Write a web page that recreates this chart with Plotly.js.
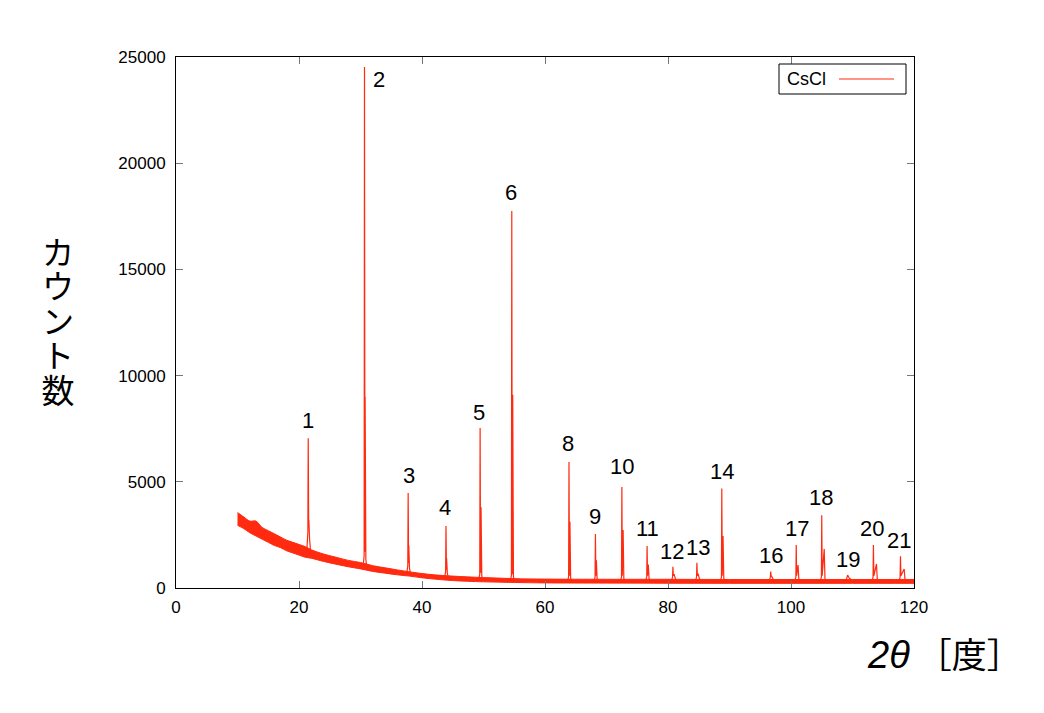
<!DOCTYPE html>
<html>
<head>
<meta charset="utf-8">
<script src="https://cdn.plot.ly/plotly-3.0.1.min.js"></script>
<style>html,body{margin:0;padding:0;background:#fff;}#chart{width:1044px;height:713px;}</style>
</head>
<body>
<div id="chart"></div>
<script>
// Background noise envelope (2θ in degrees, counts)
const bgX     = [10, 11, 12, 13, 14, 15, 16, 17, 18, 19, 20, 21, 22, 24, 26, 28, 30, 32, 34, 36, 38, 40, 42, 45, 50, 55, 60, 70, 80, 90, 100, 110, 120];
const bgUpper = [3550, 3350, 3150, 3150, 2850, 2700, 2550, 2400, 2250, 2150, 2050, 1950, 1800, 1600, 1450, 1300, 1200, 1050, 950, 850, 760, 680, 620, 560, 490, 440, 420, 410, 410, 400, 400, 400, 400];
const bgLower = [2950, 2800, 2600, 2450, 2300, 2150, 2000, 1900, 1750, 1650, 1550, 1450, 1400, 1250, 1120, 1000, 900, 780, 700, 620, 560, 480, 420, 350, 290, 260, 240, 230, 225, 220, 220, 220, 220];

// Diffraction peaks: Kα1 position/height, Kα2 shoulder position/height, local baseline
const peakPos   = [21.5, 30.65, 37.75, 43.9, 49.45, 54.6, 63.9, 68.2, 72.5, 76.6, 80.8, 84.7, 88.75, 96.7, 100.85, 105.0, 109.2, 113.4, 117.8];
const peakH     = [7050, 24530, 4470, 2920, 7530, 17750, 5930, 2540, 4750, 1980, 1000, 1190, 4680, 770, 2020, 3420, 610, 2020, 1500];
const peak2Pos  = [21.6, 30.75, 37.85, 44.0, 49.6, 54.75, 64.05, 68.35, 72.7, 76.8, 81.0, 84.9, 88.95, 96.95, 101.15, 105.4, 109.5, 113.9, 118.4];
const peak2H    = [3200, 9000, 2000, 1400, 3800, 9100, 3120, 1300, 2730, 1100, 650, 680, 2450, 500, 1080, 1840, 450, 1130, 890];
const peakBase  = [1650, 950, 650, 480, 400, 360, 320, 320, 320, 320, 320, 320, 320, 320, 320, 320, 320, 320, 320];

// Peak labels
const labelText = ['1', '2', '3', '4', '5', '6', '8', '9', '10', '11', '12', '13', '14', '16', '17', '18', '19', '20', '21'];
const labelX    = [21.5, 33.05, 37.85, 43.8, 49.3, 54.5, 63.8, 68.2, 72.5, 76.6, 80.7, 84.8, 88.8, 96.8, 100.9, 104.9, 109.2, 113.1, 117.6];
const labelY    = [7880, 23950, 5320, 3770, 8240, 18600, 6810, 3350, 5710, 2815, 1740, 1930, 5480, 1520, 2780, 4280, 1355, 2815, 2230];

const seriesName = 'CsCl';
const xTitle = '<span style="font-size:38px"><i>2θ</i></span>\u2009［度］';
const yTitle = 'カウント数';
const xTicks = [0, 20, 40, 60, 80, 100, 120];
const yTicks = [0, 5000, 10000, 15000, 20000, 25000];

const RED = '#ff2a0f';
const LATIN = '"Liberation Sans", Arial, Helvetica, sans-serif';
const CJK = '"Liberation Sans", "Noto Sans CJK JP", sans-serif';

// build peak line from arrays
const px = [], py = [];
for (let i = 0; i < peakPos.length; i++) {
  const b = peakBase[i];
  px.push(peakPos[i] - 0.25, peakPos[i] - 0.06, peakPos[i], peakPos[i] + 0.07, peak2Pos[i], peak2Pos[i] + 0.12, peak2Pos[i] + 0.3, null);
  py.push(b, b * 1.6, peakH[i], b * 1.8, peak2H[i], b * 1.4, b, null);
}

const traces = [
  {x: bgX, y: bgLower, mode: 'lines', line: {color: RED, width: 1, shape: 'spline'}, showlegend: false, hoverinfo: 'skip'},
  {x: bgX, y: bgUpper, mode: 'lines', line: {color: RED, width: 1, shape: 'spline'}, fill: 'tonexty', fillcolor: RED, showlegend: false, hoverinfo: 'skip'},
  {x: px, y: py, name: seriesName, mode: 'lines', line: {color: RED, width: 1.2}, connectgaps: false, showlegend: false}
];

const W = 738, H = 531; // plot area size
const toPX = (p) => (p - 176) / W;
const toPY = (p) => (588 - p) / H;

const annotations = labelText.map((t, i) => ({
  x: labelX[i], y: labelY[i], xref: 'x', yref: 'y', text: t, showarrow: false,
  font: {family: LATIN, size: 22, color: '#000'}, xanchor: 'center', yanchor: 'middle'
}));

// y-axis title (set to vertical writing after render)
const yTitleIndex = annotations.length;
annotations.push({
  x: toPX(58), y: toPY(322), xref: 'paper', yref: 'paper', text: yTitle, showarrow: false,
  font: {family: '"Noto Sans CJK JP", sans-serif', size: 33, color: '#000'}, xanchor: 'center', yanchor: 'middle'
});

// x-axis title
annotations.push({
  x: toPX(1024), y: toPY(655), xref: 'paper', yref: 'paper', text: xTitle, showarrow: false,
  font: {family: CJK, size: 35, color: '#000'}, xanchor: 'right', yanchor: 'middle'
});

// legend text
annotations.push({
  x: toPX(785), y: toPY(79), xref: 'paper', yref: 'paper', text: seriesName, showarrow: false,
  font: {family: LATIN, size: 18, color: '#000'}, xanchor: 'left', yanchor: 'middle'
});

const shapes = [
  {type: 'rect', xref: 'paper', yref: 'paper', x0: toPX(779), x1: toPX(906), y0: toPY(94), y1: toPY(64), line: {color: '#000', width: 1}, fillcolor: '#fff', layer: 'above'},
  {type: 'line', xref: 'paper', yref: 'paper', x0: toPX(839), x1: toPX(894), y0: toPY(79), y1: toPY(79), line: {color: RED, width: 1}, layer: 'above'}
];

const axisCommon = {
  showgrid: false, zeroline: false, showline: true, linecolor: '#000', linewidth: 1,
  mirror: 'ticks', ticks: 'inside', ticklen: 7, tickcolor: '#777', tickwidth: 1,
  tickfont: {family: LATIN, size: 17, color: '#000'}
};

const layout = {
  width: 1044, height: 713,
  margin: {l: 176, r: 130, t: 57, b: 125, pad: 0},
  paper_bgcolor: '#fff', plot_bgcolor: '#fff',
  showlegend: false,
  xaxis: Object.assign({}, axisCommon, {range: [0, 120], tickmode: 'array', tickvals: xTicks, ticktext: xTicks.map(String), ticklabelstandoff: 4}),
  yaxis: Object.assign({}, axisCommon, {range: [0, 25000], tickmode: 'array', tickvals: yTicks, ticktext: yTicks.map(String), ticklabelstandoff: 6}),
  annotations: annotations,
  shapes: shapes
};

function verticalYTitle() {
  const g = document.querySelector('#chart .annotation[data-index="' + yTitleIndex + '"]');
  if (!g) return;
  const t = g.querySelector('text');
  if (!t) return;
  const ctm = t.getCTM();
  const svg = t.ownerSVGElement;
  const sctm = svg.getCTM ? svg.getScreenCTM() : null;
  // target point in the svg's own coordinates
  const tx = 58, ty = 322;
  const lx = tx - ctm.e, ly = ty - ctm.f;
  t.setAttribute('style', (t.getAttribute('style') || '') + ';writing-mode:vertical-rl;text-orientation:upright;letter-spacing:1.5px;');
  t.setAttribute('text-anchor', 'middle');
  t.setAttribute('x', lx);
  t.setAttribute('y', ly);
  t.querySelectorAll('tspan').forEach(s => { if (s.hasAttribute('x')) { s.setAttribute('x', lx); s.setAttribute('y', ly); } });
}

Plotly.newPlot('chart', traces, layout, {staticPlot: true, displayModeBar: false}).then(verticalYTitle);
</script>
</body>
</html>
